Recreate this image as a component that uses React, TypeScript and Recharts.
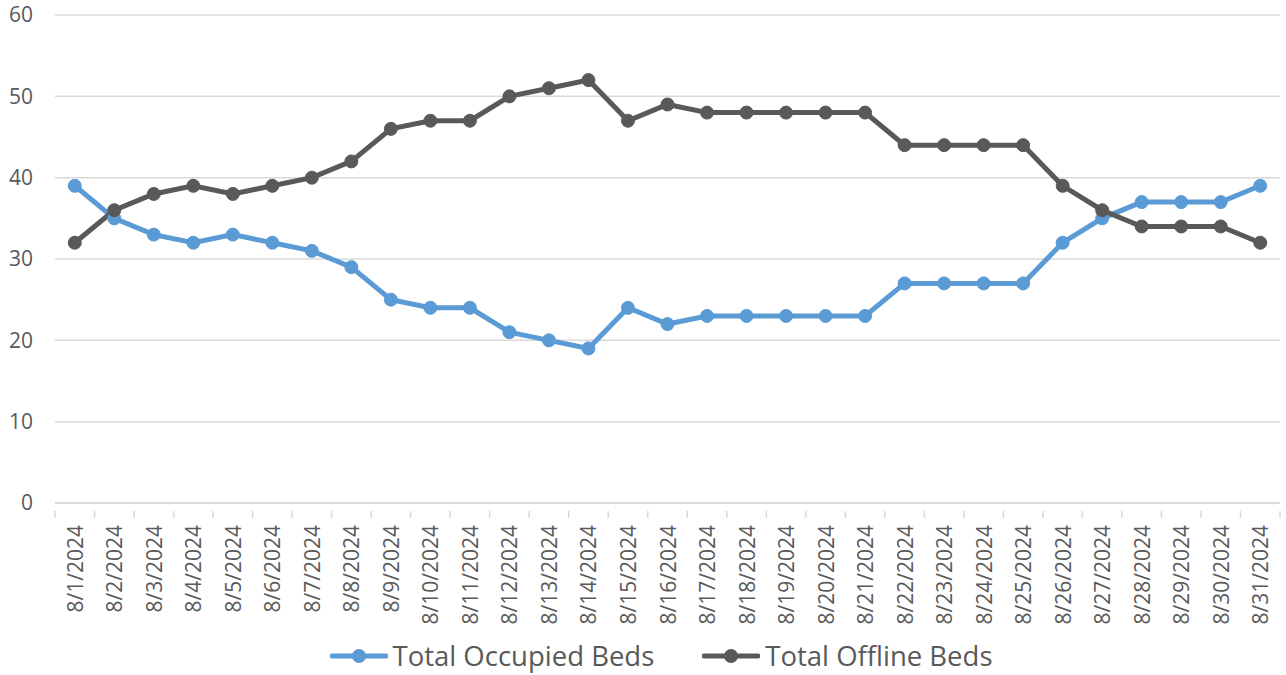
import React from "react";
import { LineChart, Line, XAxis, YAxis, CartesianGrid, Legend } from "recharts";

const dates: string[] = Array.from({ length: 31 }, (_, i) => `8/${i + 1}/2024`);
const occupied: number[] = [39, 35, 33, 32, 33, 32, 31, 29, 25, 24, 24, 21, 20, 19, 24, 22, 23, 23, 23, 23, 23, 27, 27, 27, 27, 32, 35, 37, 37, 37, 39];
const offline: number[] = [32, 36, 38, 39, 38, 39, 40, 42, 46, 47, 47, 50, 51, 52, 47, 49, 48, 48, 48, 48, 48, 44, 44, 44, 44, 39, 36, 34, 34, 34, 32];
const yTicks: number[] = [0, 10, 20, 30, 40, 50, 60];

const data = dates.map((d, i) => ({ date: d, occupied: occupied[i], offline: offline[i] }));

const W = 1286;
const H = 675;
const MARGIN = { top: 15, right: 6, left: 0, bottom: 0 };
const Y_W = 55;
const PLOT_W = W - MARGIN.left - MARGIN.right - Y_W;
const STEP = PLOT_W / dates.length;
const TEXT = "#595959";
const BLUE = "#5B9BD5";
const GRAY = "#595959";
const FONT = "'Open Sans', sans-serif";

const XTick = (props: any) => {
  const { x, y, payload, index } = props;
  return (
    <g>
      <line x1={x - STEP / 2} x2={x - STEP / 2} y1={y} y2={y + 7} stroke="#d9d9d9" strokeWidth={1.5} />
      {index === dates.length - 1 && (
        <line x1={x + STEP / 2} x2={x + STEP / 2} y1={y} y2={y + 7} stroke="#d9d9d9" strokeWidth={1.5} />
      )}
      <text
        x={x}
        y={y + 14}
        transform={`rotate(-90, ${x}, ${y + 14})`}
        textAnchor="end"
        dominantBaseline="central"
        fill={TEXT}
        fontSize={21}
        fontFamily={FONT}
      >
        {payload.value}
      </text>
    </g>
  );
};

const LegendIcon = ({ color }: { color: string }) => (
  <svg width={58} height={20} style={{ display: "block" }}>
    <line x1={2} x2={56} y1={10} y2={10} stroke={color} strokeWidth={5} strokeLinecap="round" />
    <circle cx={29} cy={10} r={7} fill={color} />
  </svg>
);

const LegendContent = () => (
  <div
    style={{
      height: 57,
      display: "flex",
      justifyContent: "center",
      alignItems: "center",
      paddingTop: 18,
      paddingLeft: 42,
      boxSizing: "border-box",
      fontFamily: FONT,
      fontSize: 27.5,
      color: TEXT,
    }}
  >
    <div style={{ display: "flex", alignItems: "center", marginRight: 48 }}>
      <LegendIcon color={BLUE} />
      <span style={{ marginLeft: 5 }}>Total Occupied Beds</span>
    </div>
    <div style={{ display: "flex", alignItems: "center" }}>
      <LegendIcon color={GRAY} />
      <span style={{ marginLeft: 5 }}>Total Offline Beds</span>
    </div>
  </div>
);

export default function App() {
  return (
    <div style={{ position: "absolute", left: 0, top: 0, width: W, height: H, background: "#fff" }}>
      <LineChart width={W} height={H} data={data} margin={MARGIN}>
        <CartesianGrid vertical={false} stroke="#d9d9d9" strokeWidth={1.5} />
        <XAxis
          dataKey="date"
          interval={0}
          height={115}
          tick={<XTick />}
          tickLine={false}
          axisLine={{ stroke: "#d9d9d9", strokeWidth: 1.5 }}
          padding={{ left: STEP / 2, right: STEP / 2 }}
        />
        <YAxis
          width={Y_W}
          domain={[0, 60]}
          ticks={yTicks}
          axisLine={false}
          tickLine={false}
          tickSize={0}
          tickMargin={22}
          tick={{ fill: TEXT, fontSize: 21, fontFamily: FONT }}
        />
        <Legend verticalAlign="bottom" height={57} content={<LegendContent />} />
        <Line
          dataKey="occupied"
          name="Total Occupied Beds"
          stroke={BLUE}
          strokeWidth={5}
          dot={{ r: 6.5, fill: BLUE, stroke: BLUE, strokeWidth: 1 }}
          activeDot={false}
          isAnimationActive={false}
        />
        <Line
          dataKey="offline"
          name="Total Offline Beds"
          stroke={GRAY}
          strokeWidth={5}
          dot={{ r: 6.5, fill: GRAY, stroke: GRAY, strokeWidth: 1 }}
          activeDot={false}
          isAnimationActive={false}
        />
      </LineChart>
    </div>
  );
}
